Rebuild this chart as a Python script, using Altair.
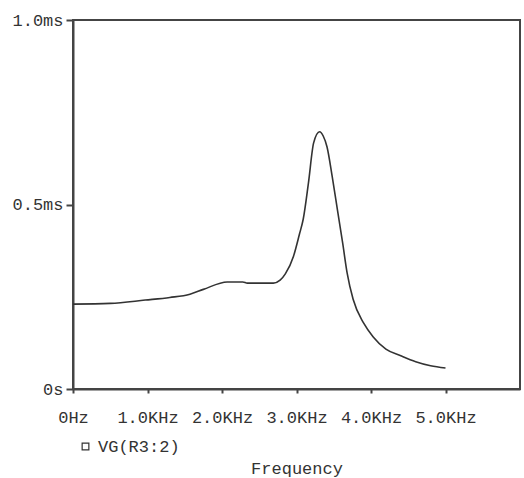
import altair as alt
import pandas as pd

# Frequency (Hz) and group delay (ms)
freq_hz = [0, 500, 970, 1300, 1570, 1750, 2070, 2280, 2340, 2690, 2780, 2850,
           2960, 3040, 3090, 3160, 3230, 3310, 3360, 3410, 3480, 3550, 3620,
           3680, 3760, 3900, 4030, 4200, 4400, 4600, 4800, 5000]
delay_ms = [0.230, 0.232, 0.241, 0.248, 0.257, 0.270, 0.290, 0.290, 0.287, 0.287,
            0.295, 0.312, 0.360, 0.420, 0.460, 0.558, 0.667, 0.697, 0.685, 0.656,
            0.575, 0.485, 0.395, 0.314, 0.243, 0.179, 0.141, 0.108, 0.090, 0.074,
            0.063, 0.057]
series_name = "VG(R3:2)"

x_ticks = [0, 1000, 2000, 3000, 4000, 5000]
y_ticks = [0, 0.5, 1.0]

df = pd.DataFrame({"f": freq_hz, "d": delay_ms, "s": [series_name] * len(freq_hz)})

FONT = "Liberation Mono"
INK = "#444444"

chart = alt.Chart(df).mark_line(strokeWidth=1.6, interpolate="monotone").encode(
    x=alt.X("f:Q", scale=alt.Scale(domain=[0, 6000], nice=False),
            axis=alt.Axis(values=x_ticks, title="Frequency", grid=False, labelFlush=False,
                          labelExpr="datum.value == 0 ? '0Hz' : format(datum.value/1000, '.1f') + 'KHz'",
                          tickSize=4, labelPadding=16, titlePadding=35)),
    y=alt.Y("d:Q", scale=alt.Scale(domain=[0, 1.0], nice=False),
            axis=alt.Axis(values=y_ticks, title=None, grid=False, labelFlush=False,
                          labelExpr="datum.value == 0 ? '0s' : format(datum.value, '.1f') + 'ms'",
                          tickSize=7, labelPadding=3)),
    color=alt.Color("s:N", scale=alt.Scale(range=["#333333"]),
                    legend=alt.Legend(title=None, orient="none", legendX=4, legendY=418,
                                      symbolType="square", symbolSize=45,
                                      symbolStrokeWidth=1.2, symbolFillColor="white",
                                      padding=0, labelOffset=4)),
).properties(
    width=447, height=369,
    autosize=alt.AutoSizeParams(type="none"),
    padding={"left": 73, "top": 20, "right": 4, "bottom": 89},
    background="white",
).configure_view(
    stroke=INK, strokeWidth=2
).configure_axis(
    domainColor=INK, domainWidth=2, tickColor=INK, tickWidth=2,
    labelFont=FONT, labelFontSize=17, labelColor="#333333",
    titleFont=FONT, titleFontSize=17, titleFontWeight="normal", titleColor="#333333",
).configure_legend(
    labelFont=FONT, labelFontSize=17, labelColor="#333333"
)

chart.save("out.html", embed_options={"renderer": "svg", "actions": False})
